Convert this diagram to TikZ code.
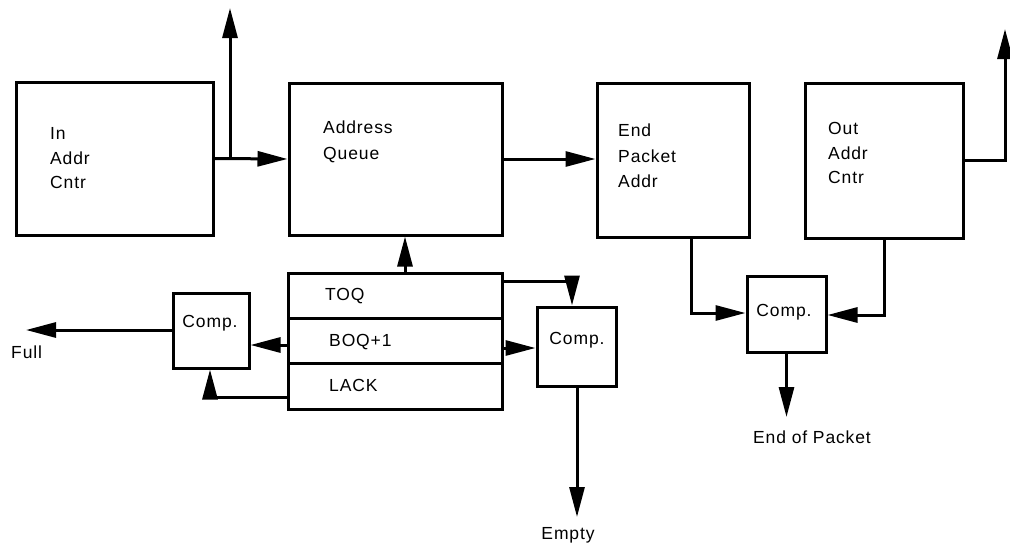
\documentclass[tikz,border=0pt]{standalone}
\usepackage{fontspec}
\setmainfont{Liberation Sans}[LetterSpace=5]
\usetikzlibrary{arrows.meta}
\begin{document}
\begin{tikzpicture}[x=1pt,y=-1pt,
  box/.style={draw,line width=3pt,inner sep=0pt,minimum width=#1},
  lbl/.style={anchor=west,inner sep=0pt,font=\fontsize{17.5}{20}\selectfont},
  clbl/.style={inner sep=0pt,font=\fontsize{17.5}{20}\selectfont},
  conn/.style={line width=3pt},
  arr/.style={line width=3pt,-{Triangle[length=30pt,width=15pt]}}]
\useasboundingbox (0,0) rectangle (1010,546);
% main boxes
\node[box=197pt,minimum height=153pt] (inaddr) at (114.5,158.5) {};
\node[box=213pt,minimum height=152pt] (aq) at (395.5,159) {};
\node[box=152pt,minimum height=154pt] (epa) at (673,160) {};
\node[box=158pt,minimum height=155pt] (oac) at (884,160.5) {};
% register stack
\node[box=214pt,minimum height=45pt] (toq) at (395,295.5) {};
\node[box=214pt,minimum height=45pt] (boq) at (395,340.5) {};
\node[box=214pt,minimum height=46pt] (lack) at (395,386) {};
% comparators
\node[box=76pt,minimum height=75pt] (compL) at (211,330.5) {};
\node[box=79pt,minimum height=79pt] (compM) at (576.5,346.5) {};
\node[box=79pt,minimum height=76pt] (compR) at (786.5,314) {};
% labels
\node[lbl] (t1) at (50,133) {In};
\node[lbl] (t2) at (50,158) {Addr};
\node[lbl] (t3) at (50,182) {Cntr};
\node[lbl] (t4) at (323,127) {Address};
\node[lbl] (t5) at (323,155) {Queue};
\node[lbl] (t6) at (618,130) {End};
\node[lbl] (t7) at (618,156) {Packet};
\node[lbl] (t8) at (618,181) {Addr};
\node[lbl] (t9) at (828,128) {Out};
\node[lbl] (t10) at (828,153) {Addr};
\node[lbl] (t11) at (828,177) {Cntr};
\node[lbl] (t12) at (325,296) {TOQ};
\node[lbl] (t13) at (329,342) {BOQ+1};
\node[lbl] (t14) at (329,385) {LACK};
\node[clbl] (c1) at (210,323) {Comp.};
\node[clbl] (c2) at (577,340) {Comp.};
\node[clbl] (c3) at (784,312) {Comp.};
\node[lbl] (full) at (11,352) {Full};
\node[clbl] (empty) at (568,535) {Empty};
\node[clbl] (eop) at (812,437) {End of Packet};
% coordinates
\coordinate (j1) at (230,159);
\coordinate (upL) at (230,8);
\coordinate (r1) at (1005,160);
\coordinate (upR) at (1005,29);
\coordinate (toqR) at (502,281);
\coordinate (toqK) at (572,281);
\coordinate (boqR) at (502,348);
\coordinate (boqL) at (288,345);
\coordinate (fullTip) at (26,330);
\coordinate (lackL) at (288,397);
\coordinate (lackK) at (210,397);
\coordinate (epaB) at (691,237);
\coordinate (epaK) at (691,313);
\coordinate (oacK) at (884,315);
\coordinate (emptyTip) at (577,517);
\coordinate (eopTip) at (786.5,417);
% connectors
\draw[arr] (inaddr.east) -- (aq.west);
\draw[arr] (j1) -- (upL);
\draw[arr] (aq.east) -- (epa.west |- aq.east);
\draw[arr] (oac.east |- r1) -- (r1) -- (upR);
\draw[arr] (toq.north -| 405,0) -- (aq.south -| 405,0);
\draw[arr] (toqR) -- (toqK) -- (compM.north -| toqK);
\draw[arr] (boqR) -- (compM.west |- boqR);
\draw[arr] (boqL) -- (compL.east |- boqL);
\draw[arr] (compL.west |- fullTip) -- (fullTip);
\draw[arr] (lackL) -- (lackK) -- (compL.south -| lackK);
\draw[arr] (compM.south -| emptyTip) -- (emptyTip);
\draw[arr] (epaB) -- (epaK) -- (compR.west |- epaK);
\draw[arr] (oac.south) -- (oacK) -- (compR.east |- oacK);
\draw[arr] (compR.south) -- (eopTip);
\end{tikzpicture}
\end{document}
